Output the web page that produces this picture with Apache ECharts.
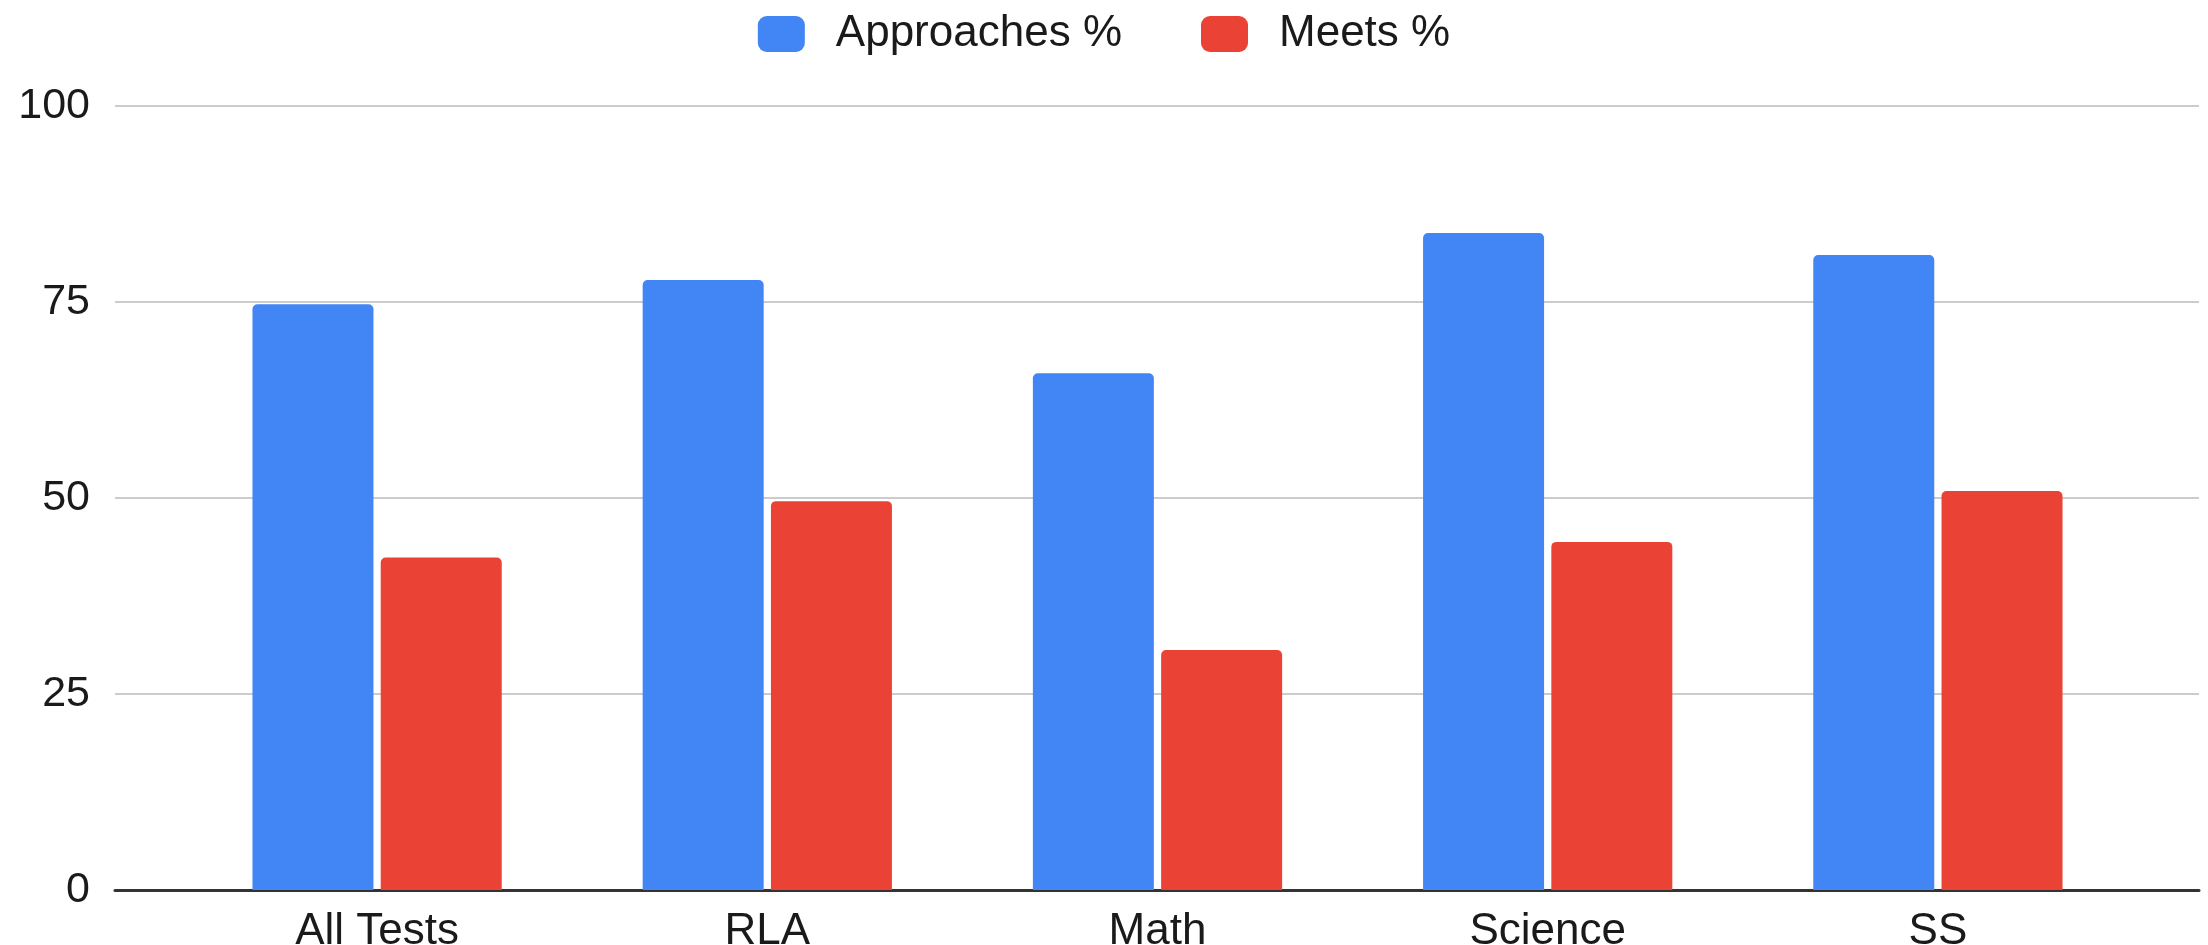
<!DOCTYPE html>
<html>
<head>
<meta charset="utf-8">
<script src="https://cdn.jsdelivr.net/npm/echarts@6/dist/echarts.min.js"></script>
<style>
  html, body { margin: 0; padding: 0; background: #ffffff; }
  #chart { width: 2208px; height: 945px; }
</style>
</head>
<body>
<div id="chart"></div>
<script>
// Test categories and the two score series (percent of students)
const categories = ['All Tests', 'RLA', 'Math', 'Science', 'SS'];
const approaches = [74.7, 77.8, 65.9, 83.8, 81.0];
const meets = [42.4, 49.6, 30.6, 44.4, 50.9];
const yTicks = [0, 25, 50, 75, 100];

const FONT = '"Liberation Sans", Arial, sans-serif';
const TEXT = '#1a1a1a';

const chart = echarts.init(document.getElementById('chart'), null, { renderer: 'canvas' });

chart.setOption({
  backgroundColor: '#ffffff',
  animation: false,
  textStyle: { fontFamily: FONT },
  legend: {
    top: 12,
    left: 'center',
    padding: 0,
    itemWidth: 47,
    itemHeight: 36,
    itemGap: 79,
    icon: 'roundRect',
    textStyle: { fontSize: 44, color: TEXT, fontFamily: FONT, padding: [0, 0, 0, 26] },
    data: ['Approaches %', 'Meets %']
  },
  grid: [
    // full-width frame: gridlines, value labels and baseline
    { left: 115, right: 9, top: 106, bottom: 55, outerBoundsMode: 'none', containLabel: false },
    // inner band holding the grouped bars
    { left: 182, right: 75, top: 106, bottom: 55, outerBoundsMode: 'none', containLabel: false }
  ],
  xAxis: [
    {
      gridIndex: 0, type: 'value', min: 0, max: 1,
      axisLine: { show: true, onZero: false, lineStyle: { color: '#333333', width: 3 } },
      axisTick: { show: false }, axisLabel: { show: false }, splitLine: { show: false }
    },
    {
      gridIndex: 1, type: 'category', data: categories,
      axisLine: { show: false }, axisTick: { show: false },
      axisLabel: { fontSize: 44, color: TEXT, margin: 20, fontFamily: FONT }
    }
  ],
  yAxis: [
    {
      gridIndex: 0, type: 'value',
      min: yTicks[0], max: yTicks[yTicks.length - 1], interval: yTicks[1] - yTicks[0],
      axisLine: { show: false }, axisTick: { show: false },
      axisLabel: { fontSize: 43, color: TEXT, margin: 25, fontFamily: FONT },
      splitLine: { lineStyle: { color: '#cccccc', width: 2 } }
    },
    {
      gridIndex: 1, type: 'value',
      min: yTicks[0], max: yTicks[yTicks.length - 1],
      show: false, splitLine: { show: false }
    }
  ],
  series: [
    {
      name: 'Approaches %', type: 'bar', xAxisIndex: 1, yAxisIndex: 1,
      data: approaches, barWidth: 121, barGap: '6%',
      itemStyle: { color: '#4285F4', borderRadius: [5, 5, 0, 0] }
    },
    {
      name: 'Meets %', type: 'bar', xAxisIndex: 1, yAxisIndex: 1,
      data: meets, barWidth: 121, barGap: '6%',
      itemStyle: { color: '#EA4335', borderRadius: [5, 5, 0, 0] }
    }
  ]
});
</script>
</body>
</html>
